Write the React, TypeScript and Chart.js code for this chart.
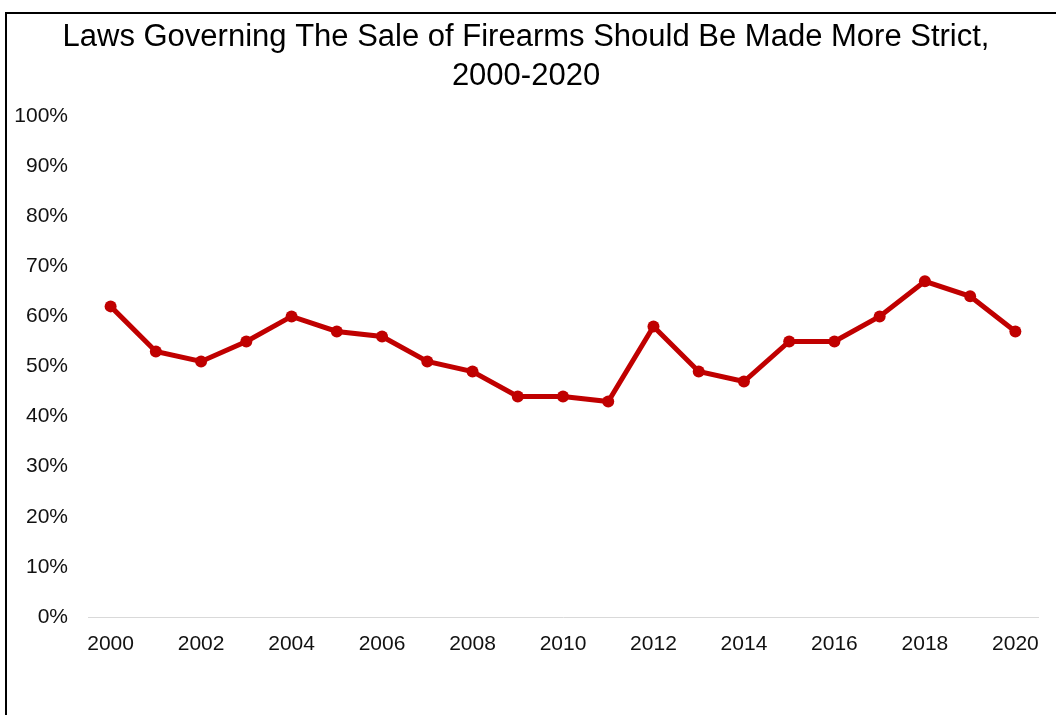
import React, { useEffect, useRef } from "react";
import { Chart, registerables } from "chart.js";

Chart.register(...registerables);

const titleLines = [
  "Laws Governing The Sale of Firearms Should Be Made More Strict,",
  "2000-2020",
];
const years = [
  "2000", "2001", "2002", "2003", "2004", "2005", "2006", "2007", "2008", "2009", "2010",
  "2011", "2012", "2013", "2014", "2015", "2016", "2017", "2018", "2019", "2020",
];
const moreStrict = [62, 53, 51, 55, 60, 57, 56, 51, 49, 44, 44, 43, 58, 49, 47, 55, 55, 60, 67, 64, 57];
const yMin = 0;
const yMax = 100;
const yStep = 10;

const FONT = "'Liberation Sans', Arial, Helvetica, sans-serif";

export default function App() {
  const ref = useRef<HTMLCanvasElement | null>(null);

  useEffect(() => {
    document.body.style.margin = "0";
    const canvas = ref.current;
    if (!canvas) return;
    const chart = new Chart(canvas, {
      type: "line",
      data: {
        labels: years,
        datasets: [
          {
            label: "More strict",
            data: moreStrict,
            borderColor: "#C00000",
            backgroundColor: "#C00000",
            pointBackgroundColor: "#C00000",
            pointBorderColor: "#C00000",
            borderWidth: 5,
            pointRadius: 6,
            pointBorderWidth: 0,
            tension: 0,
            fill: false,
          },
        ],
      },
      options: {
        responsive: false,
        animation: false,
        devicePixelRatio: 1,
        layout: { padding: { left: 14, right: 18, top: 0, bottom: 0 } },
        plugins: {
          legend: { display: false },
          tooltip: { enabled: false },
          title: {
            display: true,
            text: titleLines,
            color: "#000",
            font: { family: FONT, size: 31, weight: "normal", lineHeight: 1.25 },
            padding: { top: 18, bottom: 20.5 },
          },
        },
        scales: {
          x: {
            offset: true,
            grid: { display: false, drawTicks: false },
            border: { display: true, color: "#d9d9d9", width: 1 },
            ticks: {
              color: "#111",
              font: { family: FONT, size: 21 },
              padding: 15,
              autoSkip: false,
              maxRotation: 0,
              callback: function (_v: any, i: number) {
                return i % 2 === 0 ? years[i] : "";
              },
            },
            afterFit: (scale: any) => {
              scale.height = 98;
            },
          },
          y: {
            min: yMin,
            max: yMax,
            grid: { display: false, drawTicks: false },
            border: { display: false },
            ticks: {
              stepSize: yStep,
              color: "#111",
              font: { family: FONT, size: 21 },
              padding: 20,
              callback: (v: any) => v + "%",
            },
            afterFit: (scale: any) => {
              scale.width = 74;
            },
          },
        },
      },
    });
    return () => chart.destroy();
  }, []);

  return (
    <div style={{ position: "fixed", left: 0, top: 0, width: 1056, height: 715, background: "#fff", overflow: "hidden" }}>
      <canvas ref={ref} width={1056} height={715} style={{ position: "absolute", left: 0, top: 0 }} />
      <div
        style={{
          position: "absolute",
          left: 5,
          top: 12,
          width: 1200,
          height: 900,
          border: "2px solid #000",
          pointerEvents: "none",
        }}
      />
    </div>
  );
}
